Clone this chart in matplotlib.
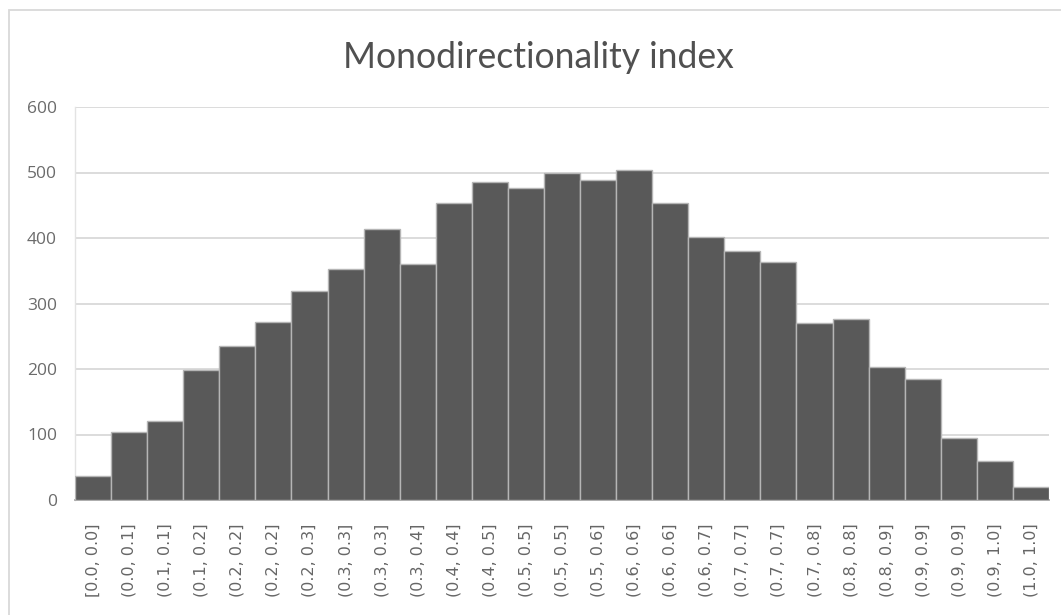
import matplotlib
matplotlib.use("Agg")
import matplotlib.pyplot as plt
from matplotlib.patches import Rectangle

# Histogram bins and counts
bins = [
    "[0.0, 0.0]", "(0.0, 0.1]", "(0.1, 0.1]", "(0.1, 0.2]", "(0.2, 0.2]",
    "(0.2, 0.2]", "(0.2, 0.3]", "(0.3, 0.3]", "(0.3, 0.3]", "(0.3, 0.4]",
    "(0.4, 0.4]", "(0.4, 0.5]", "(0.5, 0.5]", "(0.5, 0.5]", "(0.5, 0.6]",
    "(0.6, 0.6]", "(0.6, 0.6]", "(0.6, 0.7]", "(0.7, 0.7]", "(0.7, 0.7]",
    "(0.7, 0.8]", "(0.8, 0.8]", "(0.8, 0.9]", "(0.9, 0.9]", "(0.9, 0.9]",
    "(0.9, 1.0]", "(1.0, 1.0]",
]
counts = [36, 104, 121, 199, 235, 271, 319, 352, 414, 360, 453, 485, 476,
          500, 489, 504, 454, 401, 380, 364, 270, 277, 203, 185, 95, 60, 20]
y_ticks = [0, 100, 200, 300, 400, 500, 600]
title = "Monodirectionality index"

W, H = 1061, 615
fig = plt.figure(figsize=(W / 100, H / 100), dpi=100)
fig.patch.set_facecolor("white")

# light chart frame
fig.add_artist(Rectangle((8.5 / W, -0.1), 1.2, 1 - 9.5 / H + 0.1,
                         transform=fig.transFigure, fill=False,
                         edgecolor="#d9d9d9", linewidth=1.3))

ax = fig.add_axes([75 / W, 1 - 500 / H, (1049 - 75) / W, (500 - 107) / H])
x = list(range(len(bins)))
ax.bar(x, counts, width=1.0, color="#595959", edgecolor="#b5b5b5",
       linewidth=1.0, zorder=3)
ax.set_xlim(-0.5, len(bins) - 0.5)
ax.set_ylim(0, 600)
ax.set_yticks(y_ticks)
ax.yaxis.grid(True, color="#d9d9d9", linewidth=1.3)
ax.set_axisbelow(True)
for s in ["top", "right"]:
    ax.spines[s].set_visible(False)
ax.spines["left"].set_color("#e3e3e3")
ax.spines["left"].set_linewidth(1.0)
ax.spines["bottom"].set_color("#a6a6a6")
ax.spines["bottom"].set_linewidth(1.3)

ax.set_xticks(x)
ax.set_xticklabels(bins, rotation=90, family="DejaVu Sans", fontsize=11.5,
                   color="#666666")
for lab in ax.get_yticklabels():
    lab.set_family("Open Sans")
    lab.set_fontsize(12.5)
    lab.set_color("#6b6b6b")
ax.tick_params(axis="both", length=0)
ax.tick_params(axis="x", pad=17)
ax.tick_params(axis="y", pad=13)

fig.text(538 / W, 1 - 68 / H, title, ha="center", va="baseline",
         family="Lato", fontsize=25.6, color="#505050")

fig.savefig("out.png", dpi=100, facecolor="white")
